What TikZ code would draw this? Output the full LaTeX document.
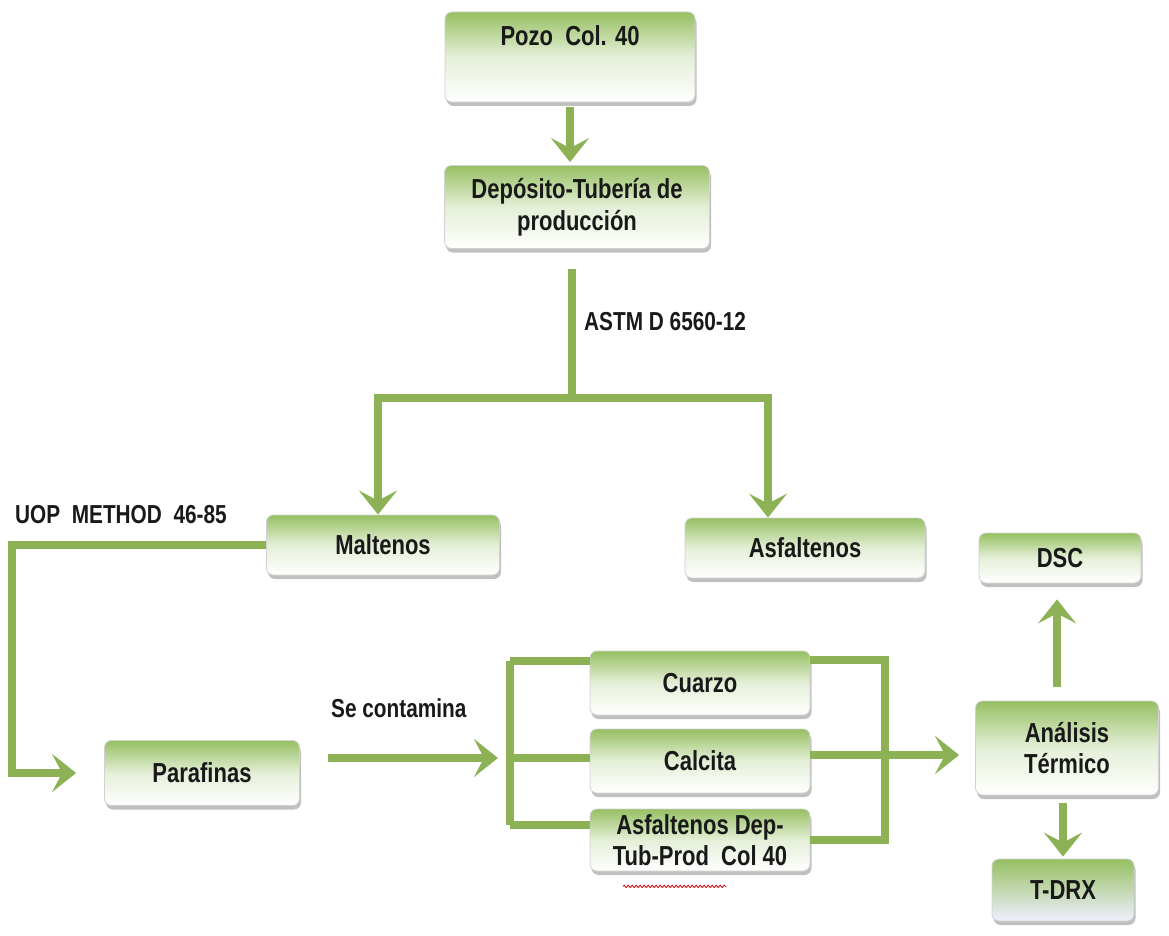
\documentclass[tikz,border=0pt]{standalone}
\usepackage{fontspec}
\setmainfont{Liberation Sans}[FakeStretch=0.8]
\usetikzlibrary{arrows.meta,shadows,decorations.pathmorphing}
\definecolor{lineg}{RGB}{141,178,86}
\definecolor{boxg}{RGB}{150,192,98}
\definecolor{txt}{RGB}{25,25,25}
\tikzset{
  box/.style={rounded corners=7pt, draw=black!18, line width=0.8pt,
    top color=boxg, bottom color=white, middle color=boxg!25,
    drop shadow={shadow xshift=1.5pt, shadow yshift=-4pt, fill=black!45, opacity=0.55},
    font=\fontsize{27.5}{31}\selectfont\bfseries, text=txt, align=center, inner sep=2pt},
  conn/.style={draw=lineg, line width=8.5pt, line join=miter},
  arr/.style={conn, -{Stealth[length=24pt,width=38pt,inset=10pt]}},
  lbl/.style={font=\fontsize{26}{30}\selectfont\bfseries, text=txt, inner sep=0pt},
}
\begin{document}
\begin{tikzpicture}[x=1pt,y=-1pt]
\useasboundingbox (0,0) rectangle (1169,936);
% boxes
\node[box, minimum width=250, minimum height=90] (pozo) at (570,57) {Pozo\ \ Col. 40\\[2pt]\strut};
\node[box, minimum width=265, minimum height=83] (dep) at (577,207) {Depósito-Tubería de\\[1pt]producción};
\node[box, minimum width=233, minimum height=60] (malt) at (383,545) {Maltenos};
\node[box, minimum width=240, minimum height=60] (asf) at (805,548) {Asfaltenos};
\node[box, minimum width=195, minimum height=65] (para) at (202,773) {Parafinas};
\node[box, minimum width=220, minimum height=64] (cuarzo) at (700,683) {Cuarzo};
\node[box, minimum width=220, minimum height=64] (calcita) at (700,761) {Calcita};
\node[box, minimum width=220, minimum height=62] (asfdep) at (700,840) {Asfaltenos Dep-\\Tub-Prod\ \ Col 40};
\node[box, minimum width=183, minimum height=94] (anal) at (1067,748) {Análisis\\Térmico};
\node[box, minimum width=162, minimum height=50] (dsc) at (1060,558) {DSC};
\node[box, minimum width=142, minimum height=62, bottom color=blue!6] (tdrx) at (1063,890) {T-DRX};
% labels
\node[lbl, anchor=west] (astm) at (584,322) {ASTM D 6560-12};
\node[lbl, anchor=west] (uop) at (15,515) {UOP\ \ METHOD\ \ 46-85};
\node[lbl, anchor=west] (secon) at (331,708) {Se contamina};
% spell-check underline
\draw[red!80!black, line width=0.8pt, decorate, decoration={snake, amplitude=1.2pt, segment length=4pt}]
  ([xshift=-77pt,yshift=-15pt]asfdep.south) -- ([xshift=26pt,yshift=-15pt]asfdep.south);
% coordinates
\coordinate (split) at (572,398);
\coordinate (uopc) at (12,773);
\coordinate (lbT) at (510,661);
\coordinate (lbM) at (510,758);
\coordinate (lbB) at (510,825);
\coordinate (rbT) at (885,660);
\coordinate (rbM) at (885,755);
\coordinate (rbB) at (885,840);
% connectors
\draw[arr] ([yshift=-5pt]pozo.south) -- ([yshift=3pt]pozo.south |- dep.north);
\draw[conn] ([yshift=-20pt]split |- dep.south) -- (split);
\draw[arr] (split) -| ([xshift=-5pt]malt.north);
\draw[arr] (split) -| ([xshift=-37pt]asf.north);
\draw[arr] (malt.west) -| (uopc) -- ([xshift=-28pt]para.west |- uopc);
\draw[arr] ([xshift=28pt]para.east |- lbM) -- ([xshift=-12pt]lbM);
\draw[conn] (lbT) -- (lbB);
\draw[conn] (lbT) -- (cuarzo.west |- lbT);
\draw[conn] (lbM) -- (calcita.west |- lbM);
\draw[conn] (lbB) -- (asfdep.west |- lbB);
\draw[conn] (cuarzo.east |- rbT) -- (rbT) -- (rbB) -- (asfdep.east |- rbB);
\draw[conn] (calcita.east |- rbM) -- (rbM);
\draw[arr] (rbM) -- ([xshift=-16pt]anal.west |- rbM);
\draw[arr] ([xshift=-10pt,yshift=14pt]anal.north) -- ([xshift=-3pt,yshift=-16pt]dsc.south);
\draw[arr] ([xshift=-4pt,yshift=-8pt]anal.south) -- ([yshift=2pt]tdrx.north);
\end{tikzpicture}
\end{document}
